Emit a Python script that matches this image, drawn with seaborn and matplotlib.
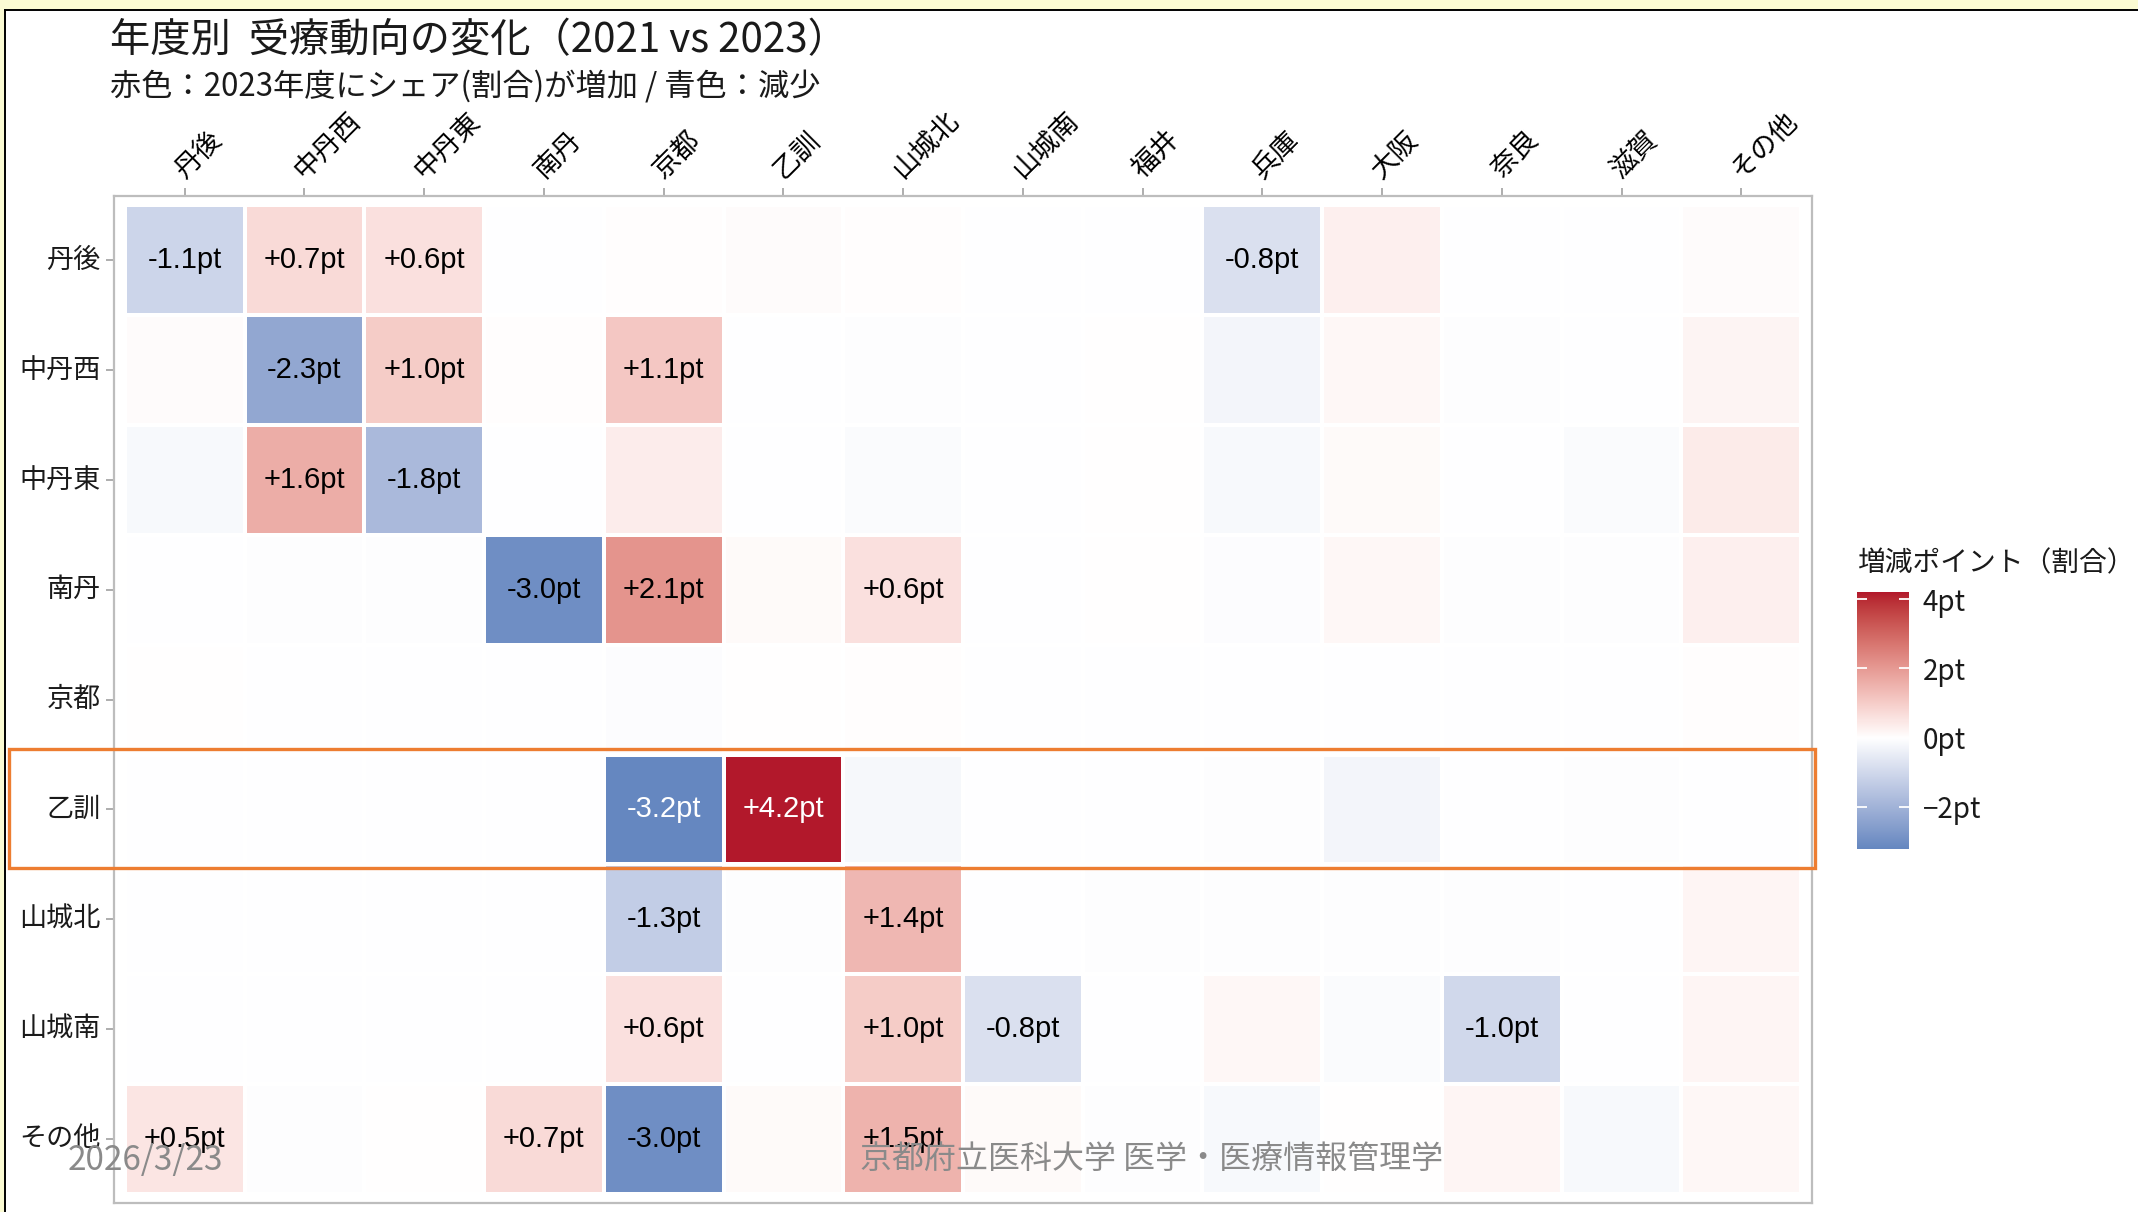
import numpy as np
import pandas as pd
import matplotlib
matplotlib.use("Agg")
import matplotlib.pyplot as plt
import seaborn as sns
from matplotlib import font_manager
from matplotlib.colors import ListedColormap, to_rgb
from matplotlib.patches import Rectangle
from matplotlib.lines import Line2D
import matplotlib.transforms as mtrans

# ---------------- data ----------------
rows = ["丹後", "中丹西", "中丹東", "南丹", "京都", "乙訓", "山城北", "山城南", "その他"]
cols = ["丹後", "中丹西", "中丹東", "南丹", "京都", "乙訓", "山城北", "山城南",
        "福井", "兵庫", "大阪", "奈良", "滋賀", "その他"]

v_tango    = [-1.1, 0.7, 0.6, 0.0, 0.05, 0.08, 0.05, 0.0, 0.0, -0.8, 0.3, 0.0, 0.0, 0.08]
v_chutanw  = [0.08, -2.3, 1.0, 0.04, 1.1, 0.0, -0.04, 0.0, 0.03, -0.25, 0.15, -0.04, 0.0, 0.22]
v_chutane  = [-0.15, 1.6, -1.8, 0.0, 0.35, 0.0, -0.1, 0.0, 0.03, -0.15, 0.1, 0.0, -0.1, 0.4]
v_nantan   = [0.0, -0.05, -0.03, -3.0, 2.1, 0.1, 0.6, 0.0, 0.02, -0.08, 0.15, -0.03, -0.05, 0.3]
v_kyoto    = [0.02, 0.0, 0.0, 0.0, -0.06, 0.03, 0.05, 0.0, -0.02, -0.02, 0.0, 0.0, 0.0, 0.05]
v_otokuni  = [-0.02, 0.0, 0.0, 0.0, -3.22, 4.21, -0.2, 0.0, 0.0, -0.05, -0.25, 0.0, -0.03, 0.0]
v_yamakita = [0.0, -0.02, -0.02, 0.0, -1.3, -0.05, 1.4, 0.0, -0.03, -0.03, -0.05, -0.03, 0.0, 0.2]
v_yamami   = [0.0, 0.0, 0.0, 0.0, 0.6, 0.0, 1.0, -0.8, 0.0, 0.15, -0.1, -1.0, -0.02, 0.2]
v_other    = [0.5, -0.03, 0.02, 0.7, -3.0, 0.1, 1.5, 0.1, -0.05, -0.15, 0.02, 0.2, -0.15, 0.15]

cbar_ticks = [-2, 0, 2, 4]
cbar_labels = ["−2pt", "0pt", "2pt", "4pt"]

title = "年度別  受療動向の変化（2021 vs 2023）"
subtitle = "赤色：2023年度にシェア(割合)が増加 / 青色：減少"
legend_title = "増減ポイント（割合）"
footer_date = "2026/3/23"
footer_org = "京都府立医科大学 医学・医療情報管理学"

values = np.array([v_tango, v_chutanw, v_chutane, v_nantan, v_kyoto,
                   v_otokuni, v_yamakita, v_yamami, v_other])
df = pd.DataFrame(values, index=rows, columns=cols)

# ---------------- fonts ----------------
names = {f.name for f in font_manager.fontManager.ttflist}
cjk = "Noto Sans CJK JP"
if "Liberation Sans Narrow" in names:
    num_font, num_size = "Liberation Sans Narrow", 25
else:
    num_font, num_size = "Liberation Sans", 21
plt.rcParams["font.family"] = [cjk, "DejaVu Sans"]

# ---------------- colour scale (Lab interpolation like ggplot2 gradient2) ----------------
def _lin(c):
    c = np.asarray(c, float)
    return np.where(c <= 0.04045, c / 12.92, ((c + 0.055) / 1.055) ** 2.4)

def _gam(c):
    c = np.clip(c, 0, 1)
    return np.where(c <= 0.0031308, 12.92 * c, 1.055 * c ** (1 / 2.4) - 0.055)

_M = np.array([[0.4124564, 0.3575761, 0.1804375],
               [0.2126729, 0.7151522, 0.0721750],
               [0.0193339, 0.1191920, 0.9503041]])
_W = np.array([0.95047, 1.0, 1.08883])

def to_lab(rgb):
    xyz = _M @ _lin(rgb) / _W
    d = 6 / 29
    f = np.where(xyz > d ** 3, np.cbrt(xyz), xyz / (3 * d * d) + 4 / 29)
    return np.array([116 * f[1] - 16, 500 * (f[0] - f[1]), 200 * (f[1] - f[2])])

def from_lab(lab):
    L, a, b = lab
    fy = (L + 16) / 116
    fx = fy + a / 500
    fz = fy - b / 200
    d = 6 / 29
    f = np.array([fx, fy, fz])
    xyz = np.where(f > d, f ** 3, 3 * d * d * (f - 4 / 29)) * _W
    rgb = np.linalg.inv(_M) @ xyz
    return _gam(rgb)

low, mid, high = to_lab(to_rgb("#2166ac")), to_lab(to_rgb("#ffffff")), to_lab(to_rgb("#b2182b"))
vmin, vmax = values.min(), values.max()
m = max(abs(vmin), abs(vmax))
samples = []
for v in np.linspace(vmin, vmax, 256):
    t = 0.5 + v / (2 * m)
    if t < 0.5:
        lab = low + (mid - low) * (t / 0.5)
    else:
        lab = mid + (high - mid) * ((t - 0.5) / 0.5)
    samples.append(from_lab(lab))
cmap = ListedColormap(samples)

# ---------------- figure ----------------
W, H = 2138, 1212
fig = plt.figure(figsize=(W / 100, H / 100), dpi=100, facecolor="white")
ax = fig.add_axes([114 / W, 1 - 1202.7 / H, (1812 - 114) / W, (1202.7 - 195.5) / H])
cax = fig.add_axes([1857 / W, 1 - 849 / H, 52 / W, (849 - 592) / H])

annot = np.where(np.abs(values) >= 0.5,
                 np.vectorize(lambda v: f"{v:+.1f}pt")(values), "")

sns.heatmap(df, ax=ax, cbar_ax=cax, cmap=cmap, vmin=vmin, vmax=vmax,
            annot=annot, fmt="", linewidths=2.7, linecolor="white",
            annot_kws={"fontsize": num_size, "family": num_font})

for txt, v in zip(ax.texts, values.ravel()):
    txt.set_color("white" if abs(v) > 3.1 else "black")

ax.set_xlim(-0.09, 14.09)
ax.set_ylim(9.08, -0.09)
ax.set_xlabel("")
ax.set_ylabel("")
for sp in ax.spines.values():
    sp.set_visible(True)
    sp.set_color("#bdbdbd")
    sp.set_linewidth(1.6)

ax.xaxis.tick_top()
ax.tick_params(axis="x", top=True, bottom=False, labeltop=True, labelbottom=False,
               length=5.5, width=1.2, color="#a0a0a0", labelsize=19.5, pad=3)
ax.tick_params(axis="y", left=True, length=5.5, width=1.2, color="#a0a0a0",
               labelsize=19.5, pad=4)
off = mtrans.ScaledTranslation(0.04, 0, fig.dpi_scale_trans)
for lbl in ax.get_xticklabels():
    lbl.set_rotation(45)
    lbl.set_ha("left")
    lbl.set_va("bottom")
    lbl.set_rotation_mode("anchor")
    lbl.set_transform(lbl.get_transform() + off)
for lbl in ax.get_yticklabels():
    lbl.set_rotation(0)
    lbl.set_color("#1a1a1a")

# colourbar
cbar = ax.collections[0].colorbar
cbar.outline.set_visible(False)
cbar.set_ticks(cbar_ticks)
cbar.set_ticklabels(cbar_labels)
cax.minorticks_off()
cax.tick_params(axis="y", which="major", direction="in", length=7, width=1.3,
                color="white", left=True, right=True, labelleft=False,
                labelright=True, labelsize=20, pad=10, labelcolor="#1a1a1a")
fig.text(1857 / W, 1 - 563 / H, legend_title, fontsize=20, ha="left", va="center",
         color="#1a1a1a")

# titles
fig.text(110 / W, 1 - 41 / H, title, fontsize=29, ha="left", va="center", color="#1a1a1a")
fig.text(110 / W, 1 - 87 / H, subtitle, fontsize=22.5, ha="left", va="center", color="#1a1a1a")

# highlight box around 乙訓 row
yrow = rows.index("乙訓")
box = Rectangle((9 / W, yrow - 0.05), (1815 - 9) / W, 1.08,
                transform=mtrans.blended_transform_factory(fig.transFigure, ax.transData),
                fill=False, edgecolor="#ed7d31", linewidth=2.4, clip_on=False, zorder=20)
fig.add_artist(box)

# slide frame
fig.add_artist(Rectangle((0, 1 - 9 / H), 1, 9 / H, transform=fig.transFigure,
                         facecolor="#fbfbd3", edgecolor="none", zorder=30))
fig.add_artist(Rectangle((0, 0), 4 / W, 1, transform=fig.transFigure,
                         facecolor="#fbfbd3", edgecolor="none", zorder=30))
fig.add_artist(Line2D([4.5 / W, 1], [1 - 10 / H, 1 - 10 / H], transform=fig.transFigure,
                      color="black", linewidth=1.4, zorder=31))
fig.add_artist(Line2D([4.5 / W, 4.5 / W], [0, 1 - 10 / H], transform=fig.transFigure,
                      color="black", linewidth=1.4, zorder=31))

# footer (slide footer overlays the chart, as in the original)
fig.text(68 / W, 1 - 1160 / H, footer_date, fontsize=24, ha="left", va="center",
         color="#8a8a8a", zorder=25)
fig.text(1152 / W, 1 - 1160 / H, footer_org, fontsize=23, ha="center", va="center",
         color="#8a8a8a", zorder=25)

fig.savefig("out.png", dpi=100, facecolor="white")
